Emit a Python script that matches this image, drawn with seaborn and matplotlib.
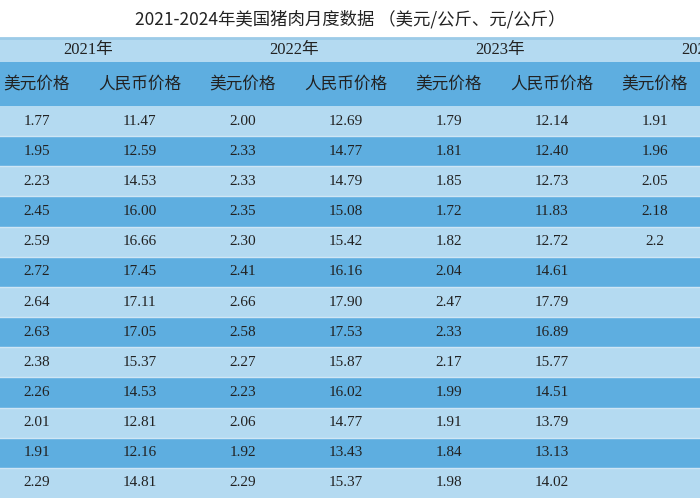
import numpy as np
import pandas as pd
import matplotlib
matplotlib.use("Agg")
import matplotlib.pyplot as plt
import seaborn as sns
from matplotlib.colors import ListedColormap

# datos de la tabla
titulo = "2021-2024年美国猪肉月度数据 （美元/公斤、元/公斤）"
anios = ["2021年", "2022年", "2023年", "2024年"]
columnas = ["美元价格", "人民币价格"]
usd_2021 = [1.77, 1.95, 2.23, 2.45, 2.59, 2.72, 2.64, 2.63, 2.38, 2.26, 2.01, 1.91, 2.29]
rmb_2021 = [11.47, 12.59, 14.53, 16.00, 16.66, 17.45, 17.11, 17.05, 15.37, 14.53, 12.81, 12.16, 14.81]
usd_2022 = [2.00, 2.33, 2.33, 2.35, 2.30, 2.41, 2.66, 2.58, 2.27, 2.23, 2.06, 1.92, 2.29]
rmb_2022 = [12.69, 14.77, 14.79, 15.08, 15.42, 16.16, 17.90, 17.53, 15.87, 16.02, 14.77, 13.43, 15.37]
usd_2023 = [1.79, 1.81, 1.85, 1.72, 1.82, 2.04, 2.47, 2.33, 2.17, 1.99, 1.91, 1.84, 1.98]
rmb_2023 = [12.14, 12.40, 12.73, 11.83, 12.72, 14.61, 17.79, 16.89, 15.77, 14.51, 13.79, 13.13, 14.02]
usd_2024 = ["1.91", "1.96", "2.05", "2.18", "2.2"]
rmb_2024 = []

claro = "#b4daf1"
oscuro = "#5eaee0"
cmap = ListedColormap([claro, oscuro])

def fmt(lista, n=13):
    out = [f"{v:.2f}" if not isinstance(v, str) else v for v in lista]
    return out + [""] * (n - len(out))

etiquetas = np.array([fmt(usd_2021), fmt(rmb_2021), fmt(usd_2022), fmt(rmb_2022),
                      fmt(usd_2023), fmt(rmb_2023), fmt(usd_2024), fmt(rmb_2024)]).T
n_filas = etiquetas.shape[0]
franjas = np.array([[i % 2] * 8 for i in range(n_filas)])

serif_cjk = ["Liberation Serif", "Noto Sans CJK SC"]
ancho = 103.0   # px por columna
inicio = -15.0  # px donde empieza la tabla (fuera del lienzo)

fig = plt.figure(figsize=(7, 5), dpi=100)
fig.patch.set_facecolor("white")
fig.text(0.5, 0.962, titulo, ha="center", va="center", fontsize=12.5,
         family=["Noto Sans CJK SC", "DejaVu Sans"], color="#222222")
fig.add_artist(plt.Line2D([0, 1], [0.925, 0.925], color="#9ccbe8", lw=2))

def preparar(ax, ncols):
    escala = ncols / 8
    ax.set_xlim(-inicio / ancho * escala, (700 - inicio) / ancho * escala)
    ax.set_xticks([]); ax.set_yticks([])
    ax.set_xlabel(""); ax.set_ylabel("")

# fila de años
ax1 = fig.add_axes([0, 0.876, 1, 0.048])
sns.heatmap(np.zeros((1, 4)), cmap=cmap, vmin=0, vmax=1, cbar=False, ax=ax1,
            annot=np.array([anios]), fmt="", annot_kws={"fontsize": 12, "color": "#222222",
                                                     "family": serif_cjk})
preparar(ax1, 4)

# fila de encabezados
ax2 = fig.add_axes([0, 0.788, 1, 0.088])
sns.heatmap(np.ones((1, 8)), cmap=cmap, vmin=0, vmax=1, cbar=False, ax=ax2,
            annot=np.array([columnas * 4]), fmt="",
            annot_kws={"fontsize": 12, "color": "#222222", "family": ["Noto Sans CJK SC"]})
preparar(ax2, 8)

# datos
ax3 = fig.add_axes([0, 0.004, 1, 0.784])
sns.heatmap(franjas, cmap=cmap, vmin=0, vmax=1, cbar=False, ax=ax3,
            annot=etiquetas, fmt="", linewidths=0,
            annot_kws={"fontsize": 11, "color": "#222222", "family": ["Liberation Serif"]})
for i in range(1, n_filas):
    ax3.axhline(i, color="#cfe6f5", lw=1)
preparar(ax3, 8)

fig.savefig("out.png", dpi=100, facecolor="white")
